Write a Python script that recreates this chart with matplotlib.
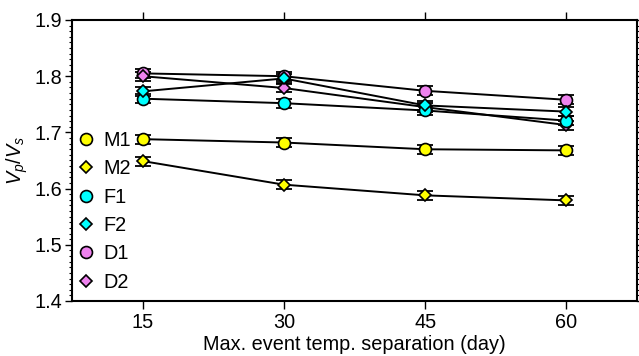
import matplotlib
matplotlib.use("Agg")
import matplotlib.pyplot as plt
from matplotlib.ticker import MultipleLocator, FormatStrFormatter
from matplotlib.lines import Line2D

plt.rcParams['font.family'] = ['Liberation Sans', 'DejaVu Sans']
plt.rcParams['mathtext.fontset'] = 'custom'
plt.rcParams['mathtext.it'] = 'Liberation Sans:italic'
plt.rcParams['mathtext.rm'] = 'Liberation Sans'

# Maximum event temporal separation (days)
separation = [15, 30, 45, 60]

# Vp/Vs ratio for each model
m1 = [1.688, 1.682, 1.670, 1.668]
m2 = [1.649, 1.607, 1.588, 1.579]
f1 = [1.760, 1.752, 1.739, 1.721]
f2 = [1.773, 1.796, 1.748, 1.737]
d1 = [1.805, 1.800, 1.774, 1.758]
d2 = [1.800, 1.779, 1.745, 1.713]

# Uncertainty of each estimate
err = 0.008

series = [
    ("D1", d1, "o", "violet"),
    ("D2", d2, "D", "violet"),
    ("F1", f1, "o", "cyan"),
    ("F2", f2, "D", "cyan"),
    ("M1", m1, "o", "yellow"),
    ("M2", m2, "D", "yellow"),
]
legend_order = ["M1", "M2", "F1", "F2", "D1", "D2"]

FS = 14.3

fig = plt.figure(figsize=(6.39, 3.56), dpi=100)
ax = fig.add_axes([72 / 639, 55 / 356, 565 / 639, 281 / 356])

handles = {}
for name, vals, mk, col in series:
    ms = 8.6 if mk == "o" else 6.6
    ax.errorbar(separation, vals, yerr=err, fmt='-', color='black', lw=1.4,
                elinewidth=1.3, capsize=5.5, capthick=1.3, zorder=2)
    ax.plot(separation, vals, linestyle='none', marker=mk, ms=ms,
            mfc=col, mec='black', mew=1.2, zorder=3)
    handles[name] = Line2D([], [], linestyle='none', marker=mk, ms=ms,
                           mfc=col, mec='black', mew=1.2)

ax.set_xlim(7.5, 67.5)
ax.set_ylim(1.4, 1.9)
ax.set_xticks(separation)
ax.yaxis.set_major_locator(MultipleLocator(0.1))
ax.yaxis.set_minor_locator(MultipleLocator(0.01))
ax.yaxis.set_major_formatter(FormatStrFormatter('%.1f'))

ax.tick_params(axis='x', which='major', direction='out', length=6, width=1,
               top=True, labelsize=FS, pad=3)
ax.tick_params(axis='y', which='major', direction='out', length=5, width=1,
               right=True, labelsize=FS, pad=2)
ax.tick_params(axis='y', which='minor', direction='out', length=2.5, width=0.8,
               right=True)
for sp in ax.spines.values():
    sp.set_linewidth(1.5)

ax.set_xlabel("Max. event temp. separation (day)", fontsize=FS, labelpad=2)
ax.set_ylabel("$V_p/V_s$", fontsize=FS, labelpad=3)

ax.legend([handles[n] for n in legend_order], legend_order, loc='lower left',
          frameon=False, fontsize=FS, handlelength=1.0, handletextpad=0.35,
          labelspacing=0.47, borderaxespad=0.0, bbox_to_anchor=(-0.006, 0.005))

fig.savefig("out.png", dpi=100)
